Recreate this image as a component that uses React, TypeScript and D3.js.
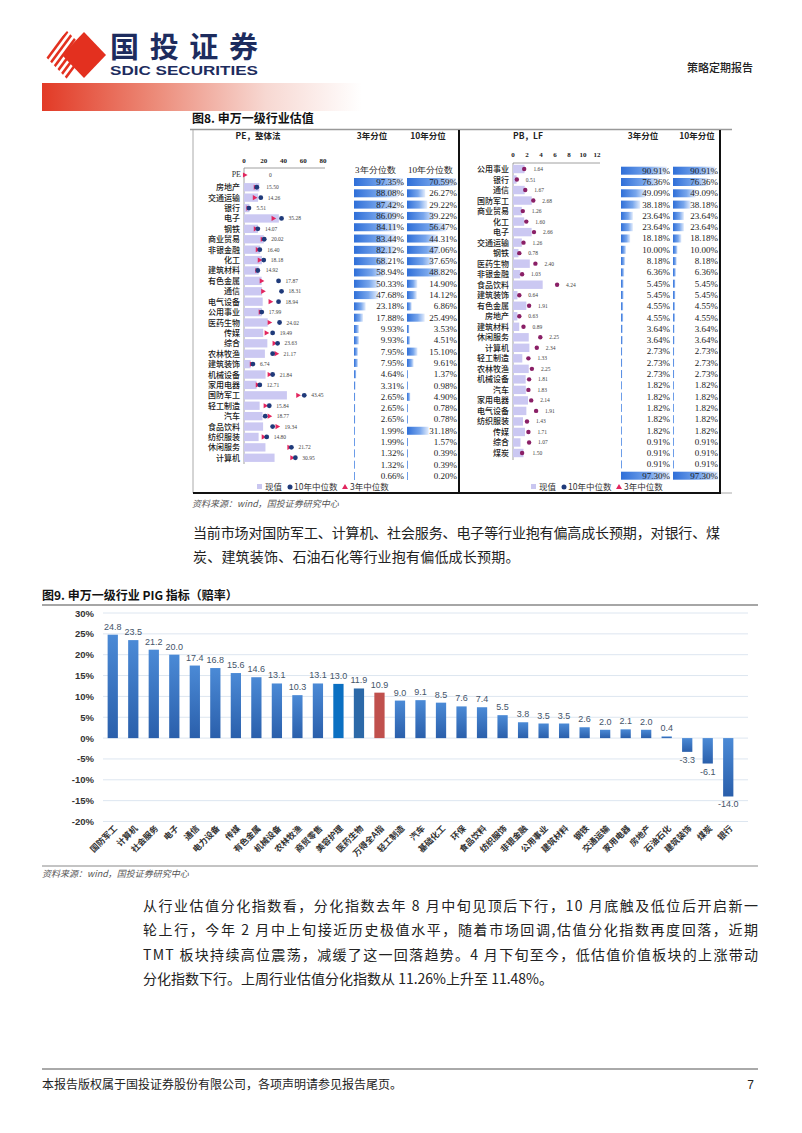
import React from "react";
import * as d3 from "d3";

// ---------- DATA ----------
const PE_CATS = ["房地产","交通运输","银行","电子","钢铁","商业贸易","非银金融","化工","建筑材料","有色金属","通信","电气设备","公用事业","医药生物","传媒","综合","农林牧渔","建筑装饰","机械设备","家用电器","国防军工","轻工制造","汽车","食品饮料","纺织服装","休闲服务","计算机"];
const PE_VALUES = [15.50,14.26,5.51,35.28,14.07,20.02,16.40,18.18,14.92,17.87,18.31,18.94,17.99,24.02,19.49,23.63,21.17,6.74,21.84,12.71,43.45,15.84,18.77,19.34,14.80,21.72,30.95];
const PE_MED10 = [13,17,5,38,14,20.5,16,20,14,35,38,35,18,36,29,34,29,9,29,16,61,25.6,21.5,29,23,48,52];
const PE_MED3 = [12,11,4.5,30,12,19,14,16,13.5,18,19.5,27,17,26,23,31,33,8,26,14,55,22,26,34,20,46,49];
const PE_PCT3 = [97.35,88.08,87.42,86.09,84.11,83.44,82.12,68.21,58.94,50.33,47.68,23.18,17.88,9.93,9.93,7.95,7.95,4.64,3.31,2.65,2.65,2.65,1.99,1.99,1.32,1.32,0.66];
const PE_PCT10 = [70.59,26.27,29.22,39.22,56.47,44.31,47.06,37.65,48.82,14.90,14.12,6.86,25.49,3.53,4.51,15.10,9.61,1.37,0.98,4.90,0.78,0.78,31.18,1.57,0.39,0.39,0.20];
const PE_TICKS = [0,20,40,60,80];

const PB_CATS = ["公用事业","银行","通信","国防军工","商业贸易","化工","电子","交通运输","钢铁","医药生物","非银金融","食品饮料","建筑装饰","有色金属","房地产","建筑材料","休闲服务","计算机","轻工制造","农林牧渔","机械设备","汽车","家用电器","电气设备","纺织服装","传媒","综合","煤炭"];
const PB_VALUES = [1.64,0.51,1.67,2.68,1.26,1.60,2.66,1.26,0.78,2.40,1.03,4.24,0.64,1.91,0.63,0.89,2.25,2.34,1.33,2.25,1.81,1.83,2.14,1.91,1.43,1.71,1.07,1.50];
const PB_MED10 = [1.6,0.55,1.75,2.9,1.4,1.9,3.0,1.5,0.9,3.2,1.3,6.3,0.9,2.3,0.9,1.5,3.9,3.4,2.2,2.7,2.3,2.2,2.6,3.3,2.0,2.2,2.3,1.3];
const PB_PCT3 = [90.91,76.36,49.09,38.18,23.64,23.64,18.18,10.00,8.18,6.36,5.45,5.45,4.55,4.55,3.64,3.64,2.73,2.73,2.73,1.82,1.82,1.82,1.82,1.82,0.91,0.91,0.91,97.30];
const PB_PCT10 = [90.91,76.36,49.09,38.18,23.64,23.64,18.18,10.00,8.18,6.36,5.45,5.45,4.55,4.55,3.64,3.64,2.73,2.73,2.73,1.82,1.82,1.82,1.82,1.82,0.91,0.91,0.91,97.30];
const PB_TICKS = [0,2,4,6,8,10,12];

const PIG_CATS = ["国防军工","计算机","社会服务","电子","通信","电力设备","传媒","有色金属","机械设备","农林牧渔","商贸零售","美容护理","医药生物","万得全A指","轻工制造","汽车","基础化工","环保","食品饮料","纺织服饰","非银金融","公用事业","建筑材料","钢铁","交通运输","家用电器","房地产","石油石化","建筑装饰","煤炭","银行"];
const PIG_VALUES = [24.8,23.5,21.2,20.0,17.4,16.8,15.6,14.6,13.1,10.3,13.1,13.0,11.9,10.9,9.0,9.1,8.5,7.6,7.4,5.5,3.8,3.5,3.5,2.6,2.0,2.1,2.0,0.4,-3.3,-6.1,-14.0];
const PIG_TICKS = [30,25,20,15,10,5,0,-5,-10,-15,-20];

const PARA1 = ["当前市场对国防军工、计算机、社会服务、电子等行业抱有偏高成长预期，对银行、煤","炭、建筑装饰、石油石化等行业抱有偏低成长预期。"];
const PARA2 = ["从行业估值分化指数看，分化指数去年 8 月中旬见顶后下行，10 月底触及低位后开启新一","轮上行，今年 2 月中上旬接近历史极值水平，随着市场回调,估值分化指数再度回落，近期","TMT 板块持续高位震荡，减缓了这一回落趋势。4 月下旬至今，低估值价值板块的上涨带动","分化指数下行。上周行业估值分化指数从 11.26%上升至 11.48%。"];

// ---------- STYLE ----------
const CJK = "'Noto Sans CJK SC', 'Noto Sans', sans-serif";
const SERIF = "'Liberation Serif', 'DejaVu Serif', serif";
const SANS = "'Liberation Sans', Arial, sans-serif";
const NAVY = "#1d2c5e";

function Triangle({ x, y, s = 3 }: { x: number; y: number; s?: number }) {
  return <path d={`M${x - s * 0.8},${y - s} L${x + s},${y} L${x - s * 0.8},${y + s} Z`} fill="#e2265f" />;
}

function PctColumn({ values, y, x0, w, textRight }: { values: number[]; y: (i: number) => number; x0: number; w: number; textRight: number }) {
  const sx = d3.scaleLinear().domain([0, d3.max(values) as number]).range([0, w]);
  return (
    <g>
      {values.map((v, i) => (
        <g key={i}>
          <rect x={x0} y={y(i) - 4} width={Math.max(1, sx(v))} height={8} fill="url(#dbar)" />
          <text x={textRight} y={y(i) + 3} textAnchor="end" fontFamily={SERIF} fontSize={9} fill="#222">{v.toFixed(2)}%</text>
        </g>
      ))}
    </g>
  );
}

function Legend({ x, y }: { x: number; y: number }) {
  return (
    <g fontFamily={CJK} fontSize={8.5} fill="#333">
      <rect x={x} y={y - 3} width={5} height={5} fill="#c9c6f0" />
      <text x={x + 8} y={y + 3}>现值</text>
      <circle cx={x + 33} cy={y} r={2.5} fill="#1f3a7a" />
      <text x={x + 37} y={y + 3}>10年中位数</text>
      <path d={`M${x + 88},${y - 3} L${x + 91},${y + 2} L${x + 85},${y + 2} Z`} fill="#e2265f" />
      <text x={x + 93} y={y + 3}>3年中位数</text>
    </g>
  );
}

export default function App() {
  // ---- PE panel scales
  const peX = d3.scaleLinear().domain([0, 80]).range([244, 323]);
  const peY = d3.scaleBand<string>().domain(PE_CATS).range([181, 464]).padding(0.2);
  const peC = (c: string) => (peY(c) as number) + peY.bandwidth() / 2;
  const peTY = d3.scaleLinear().domain([0, PE_PCT3.length - 1]).range([182, 476]);

  // ---- PB panel scales
  const pbX = d3.scaleLinear().domain([0, 12]).range([513, 597]);
  const pbY = d3.scaleBand<string>().domain(PB_CATS).range([162.7, 459.3]).padding(0.2);
  const pbC = (c: string) => (pbY(c) as number) + pbY.bandwidth() / 2;
  const pbTY = d3.scaleLinear().domain([0, PB_PCT3.length - 1]).range([170.7, 475.7]);

  // ---- PIG chart scales
  const gx = d3.scaleBand<string>().domain(PIG_CATS).range([102.5, 738.5]).paddingInner(0.5).paddingOuter(0.25);
  const gy = d3.scaleLinear().domain([-20, 30]).range([821.5, 613]);

  return (
    <svg width={802} height={1133} viewBox="0 0 802 1133" style={{ position: "absolute", left: 0, top: 0, background: "#fff" }}>
      <defs>
        <linearGradient id="hdr" x1="0" x2="1" y1="0" y2="0">
          <stop offset="0" stopColor="#e23a26" />
          <stop offset="0.35" stopColor="#ec8a78" />
          <stop offset="0.7" stopColor="#f7d8d2" />
          <stop offset="1" stopColor="#ffffff" />
        </linearGradient>
        <linearGradient id="dbar" x1="0" x2="1" y1="0" y2="0">
          <stop offset="0" stopColor="#2f6fd8" />
          <stop offset="0.6" stopColor="#78a6ec" />
          <stop offset="1" stopColor="#e4edfc" />
        </linearGradient>
        <linearGradient id="pig" x1="0" x2="0" y1="0" y2="1">
          <stop offset="0" stopColor="#4b8ad6" />
          <stop offset="1" stopColor="#2a5fab" />
        </linearGradient>
        <clipPath id="stripesClip">
          <polygon points="44,55 67,31 83,47 83,63 67,79" />
        </clipPath>
      </defs>

      {/* ---------- HEADER ---------- */}
      <g clipPath="url(#stripesClip)">
        {[0, 1, 2, 3, 4, 5, 6].map((k) => (
          <line key={k} x1={30 + k * 6.5} y1={82} x2={70 + k * 6.5} y2={28} stroke="#e3301f" strokeWidth={2.6} />
        ))}
      </g>
      <polygon points="84,32 106,55 84,78 62,55" fill="#e3301f" />
      <text x={110} y={58} fontFamily={CJK} fontWeight={700} fontSize={29} fill={NAVY} textLength={148} lengthAdjust="spacing">国投证券</text>
      <text x={110} y={75} fontFamily={SANS} fontWeight={700} fontSize={12.5} fill={NAVY} textLength={148} lengthAdjust="spacingAndGlyphs">SDIC SECURITIES</text>
      <text x={753} y={72} textAnchor="end" fontFamily={CJK} fontSize={11} fontWeight={500} fill="#222">策略定期报告</text>
      <rect x={42} y={83} width={320} height={28} fill="url(#hdr)" />

      {/* ---------- FIGURE 8 ---------- */}
      <text x={192} y={123} fontFamily={CJK} fontWeight={700} fontSize={12} fill="#111">图8. 申万一级行业估值</text>
      <line x1={190} y1={129.5} x2={732} y2={129.5} stroke="#999" strokeWidth={1.5} />
      <line x1={193} y1={130} x2={193} y2={493} stroke="#aaa" strokeWidth={1} />
      <line x1={459} y1={130} x2={459} y2={493} stroke="#111" strokeWidth={2} />
      <line x1={720} y1={130} x2={720} y2={493} stroke="#111" strokeWidth={2} />
      <line x1={193} y1={493} x2={721} y2={493} stroke="#111" strokeWidth={2} />
      <line x1={721} y1={493} x2={732} y2={493} stroke="#aaa" strokeWidth={1} />

      {/* PE panel */}
      <g fontFamily={CJK} fontWeight={700} fontSize={8.5} fill="#222">
        <text x={258} y={139} textAnchor="middle">PE，整体法</text>
        <text x={372} y={139} textAnchor="middle">3年分位</text>
        <text x={428} y={139} textAnchor="middle">10年分位</text>
      </g>
      {PE_TICKS.map((t) => (
        <text key={t} x={peX(t)} y={163} textAnchor="middle" fontFamily={SERIF} fontWeight={700} fontSize={7} fill="#222">{t}</text>
      ))}
      <line x1={peX(0)} y1={168} x2={peX(80) + 2} y2={168} stroke="#888" strokeWidth={0.8} />
      <line x1={peX(0)} y1={168} x2={peX(0)} y2={464} stroke="#888" strokeWidth={0.8} />
      <text x={241} y={177} textAnchor="end" fontFamily={SERIF} fontSize={8} fill="#333">PE</text>
      <Triangle x={peX(0) + 1} y={175} s={2.6} />
      <text x={269} y={177} fontFamily={SERIF} fontSize={5.5} fill="#444">0</text>
      {PE_CATS.map((c, i) => {
        const cy = peC(c);
        const mx = Math.max(PE_VALUES[i], PE_MED10[i], PE_MED3[i]);
        return (
          <g key={c}>
            <text x={240} y={cy + 3} textAnchor="end" fontFamily={CJK} fontWeight={500} fontSize={8} fill="#222">{c}</text>
            <rect x={peX(0)} y={(peY(c) as number)} width={peX(PE_VALUES[i]) - peX(0)} height={peY.bandwidth()} fill="#cbc8f2" />
            <Triangle x={peX(PE_MED3[i])} y={cy} s={2.6} />
            <circle cx={peX(PE_MED10[i])} cy={cy} r={2.4} fill="#1f3a7a" />
            <text x={peX(mx) + 7} y={cy + 2} fontFamily={SERIF} fontSize={5.5} fill="#444">{PE_VALUES[i].toFixed(2)}</text>
          </g>
        );
      })}
      <text x={355} y={173} fontFamily={SERIF} fontSize={9} fill="#222">3年分位数</text>
      <text x={408} y={173} fontFamily={SERIF} fontSize={9} fill="#222">10年分位数</text>
      <PctColumn values={PE_PCT3} y={peTY} x0={354} w={49} textRight={404} />
      <PctColumn values={PE_PCT10} y={peTY} x0={407} w={49} textRight={457} />
      <Legend x={257} y={487} />

      {/* PB panel */}
      <g fontFamily={CJK} fontWeight={700} fontSize={8.5} fill="#222">
        <text x={528} y={139} textAnchor="middle">PB，LF</text>
        <text x={643} y={139} textAnchor="middle">3年分位</text>
        <text x={697} y={139} textAnchor="middle">10年分位</text>
      </g>
      {PB_TICKS.map((t) => (
        <text key={t} x={pbX(t)} y={157} textAnchor="middle" fontFamily={SERIF} fontWeight={700} fontSize={7} fill="#222">{t}</text>
      ))}
      <line x1={pbX(0)} y1={163} x2={pbX(12) + 3} y2={163} stroke="#888" strokeWidth={0.8} />
      <line x1={pbX(0)} y1={163} x2={pbX(0)} y2={460} stroke="#888" strokeWidth={0.8} />
      {PB_CATS.map((c, i) => {
        const cy = pbC(c);
        const mx = Math.max(PB_VALUES[i], PB_MED10[i]);
        return (
          <g key={c}>
            <text x={509} y={cy + 3} textAnchor="end" fontFamily={CJK} fontWeight={500} fontSize={8} fill="#222">{c}</text>
            <rect x={pbX(0)} y={(pbY(c) as number)} width={pbX(PB_VALUES[i]) - pbX(0)} height={pbY.bandwidth()} fill="#cbc8f2" />
            <circle cx={pbX(PB_MED10[i])} cy={cy} r={2.2} fill="#8a1f66" />
            <text x={pbX(mx) + 9} y={cy + 2} fontFamily={SERIF} fontSize={5.5} fill="#444">{PB_VALUES[i].toFixed(2)}</text>
          </g>
        );
      })}
      <PctColumn values={PB_PCT3} y={pbTY} x0={621} w={49} textRight={670} />
      <PctColumn values={PB_PCT10} y={pbTY} x0={673} w={45} textRight={718} />
      <Legend x={531} y={487} />

      <text x={192} y={507} fontFamily={CJK} fontStyle="italic" fontSize={9} fill="#555">资料来源：wind，国投证券研究中心</text>

      {/* paragraph 1 */}
      <g fontFamily={CJK} fontSize={14} fill="#222">
        <text x={193} y={538} textLength={527} lengthAdjust="spacing">{PARA1[0]}</text>
        <text x={193} y={562} letterSpacing={0.2}>{PARA1[1]}</text>
      </g>

      {/* ---------- FIGURE 9 ---------- */}
      <text x={42} y={600} fontFamily={CJK} fontWeight={700} fontSize={12} fill="#111">图9. 申万一级行业 PIG 指标（赔率）</text>
      <line x1={42} y1={605} x2={758} y2={605} stroke="#888" strokeWidth={1.5} />

      {PIG_TICKS.map((t) => (
        <g key={t}>
          <line x1={103} x2={748} y1={gy(t)} y2={gy(t)} stroke="#dde6f0" strokeWidth={1} />
          <text x={94} y={gy(t) + 3.5} textAnchor="end" fontFamily={SANS} fontWeight={700} fontSize={9.5} fill="#333">{t}%</text>
        </g>
      ))}
      {PIG_CATS.map((c, i) => {
        const v = PIG_VALUES[i];
        const x = gx(c) as number;
        const y0 = gy(0), y1 = gy(v);
        const fill = c === "万得全A指" ? "#c0504d" : c === "美容护理" ? "#0b70c2" : c === "医药生物" ? "#2c69a8" : "url(#pig)";
        const cx = x + gx.bandwidth() / 2;
        return (
          <g key={c}>
            <rect x={x} y={Math.min(y0, y1)} width={gx.bandwidth()} height={Math.max(1, Math.abs(y1 - y0))} fill={fill} />
            <text x={cx} y={v >= 0 ? y1 - 5 : y1 + 11} textAnchor="middle" fontFamily={SANS} fontSize={9} fill="#44546a">{v.toFixed(1)}</text>
            <text transform={`translate(${cx + 5},${829}) rotate(-45)`} textAnchor="end" fontFamily={CJK} fontWeight={700} fontSize={8.5} fill="#333">{c}</text>
          </g>
        );
      })}
      <line x1={42} y1={866} x2={758} y2={866} stroke="#888" strokeWidth={1} />
      <text x={42} y={877} fontFamily={CJK} fontStyle="italic" fontSize={9} fill="#555">资料来源：wind，国投证券研究中心</text>

      {/* paragraph 2 */}
      <g fontFamily={CJK} fontSize={14} fill="#222">
        <text x={143} y={911} textLength={615} lengthAdjust="spacing">{PARA2[0]}</text>
        <text x={143} y={935} textLength={615} lengthAdjust="spacing">{PARA2[1]}</text>
        <text x={143} y={960} textLength={615} lengthAdjust="spacing">{PARA2[2]}</text>
        <text x={143} y={984}>{PARA2[3]}</text>
      </g>

      {/* footer */}
      <line x1={42} y1={1069} x2={758} y2={1069} stroke="#555" strokeWidth={1} />
      <text x={42} y={1089} fontFamily={CJK} fontSize={12} fill="#222">本报告版权属于国投证券股份有限公司，各项声明请参见报告尾页。</text>
      <text x={754} y={1089} textAnchor="end" fontFamily={SANS} fontSize={12} fill="#222">7</text>
    </svg>
  );
}
